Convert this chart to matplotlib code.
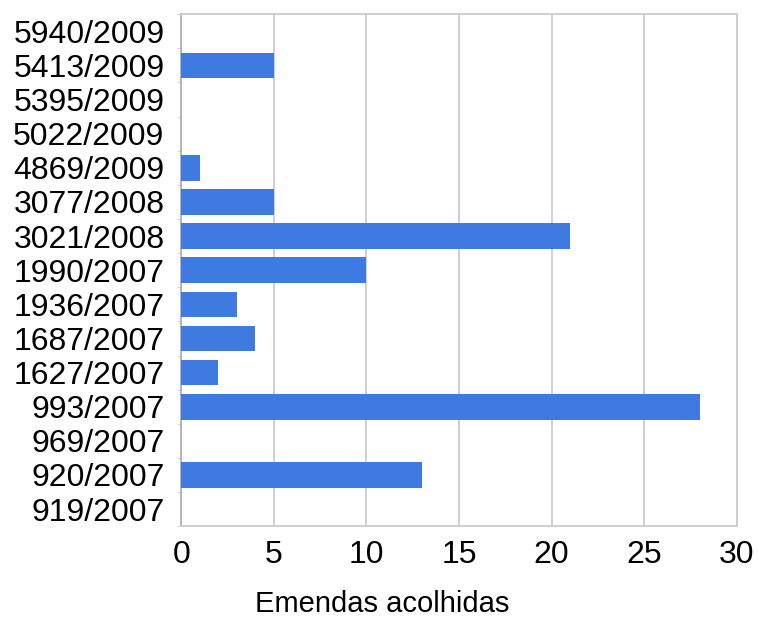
import matplotlib
matplotlib.use('Agg')
import matplotlib.pyplot as plt
import numpy as np

plt.rcParams['font.family'] = ['Liberation Sans', 'DejaVu Sans']

# projects, top to bottom as shown
projetos = ['5940/2009', '5413/2009', '5395/2009', '5022/2009', '4869/2009',
            '3077/2008', '3021/2008', '1990/2007', '1936/2007', '1687/2007',
            '1627/2007', '993/2007', '969/2007', '920/2007', '919/2007']
emendas = [0, 5, 0, 0, 1, 5, 21, 10, 3, 4, 2, 28, 0, 13, 0]
xticks = [0, 5, 10, 15, 20, 25, 30]

fig = plt.figure(figsize=(7.58, 6.19), dpi=100)
ax = fig.add_axes([0.239, 0.150, 0.733, 0.827])

y = np.arange(len(projetos))
ax.barh(y, emendas, height=0.75, color='#3f7ae0', zorder=3)

ax.set_ylim(len(projetos) - 0.5, -0.5)
ax.set_xlim(0, 30)
ax.set_yticks(y)
ax.set_yticklabels(projetos)
ax.set_xticks(xticks)
ax.set_yticks(np.arange(len(projetos) + 1) - 0.5, minor=True)

ax.tick_params(axis='y', which='major', length=0, pad=12, labelsize=23)
ax.tick_params(axis='y', which='minor', length=3, color='#cccccc')
ax.tick_params(axis='x', length=0, pad=10, labelsize=23)
ax.grid(axis='x', color='#cccccc', linewidth=1.3, zorder=0)

for s in ax.spines.values():
    s.set_color('#cccccc')
    s.set_linewidth(1.3)
ax.spines['left'].set_color('#b0b0b0')

# label sits centred on the figure, not on the axes
ax.set_xlabel('Emendas acolhidas', fontsize=21)
ax.xaxis.set_label_coords(0.362, -0.125)

fig.savefig('out.png', dpi=100)
